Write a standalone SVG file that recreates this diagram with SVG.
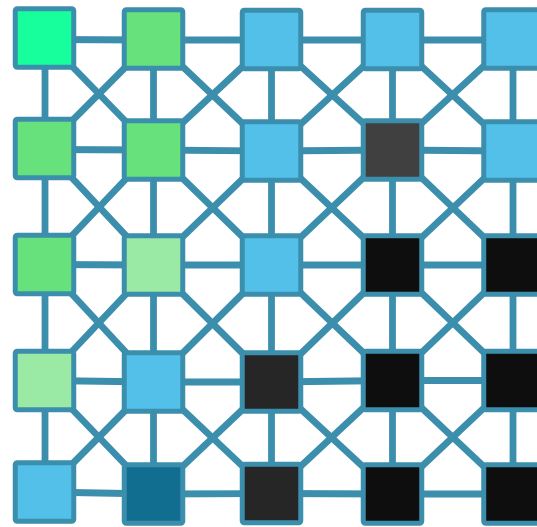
<svg xmlns="http://www.w3.org/2000/svg" width="537" height="527" viewBox="0 0 537 527">
<style>
.e{stroke:#3b8fad;stroke-width:6.8;fill:none}
.n{stroke:#3b8fad;stroke-width:5}
</style>
<rect width="537" height="527" fill="#ffffff"/>
<g id="connectors" class="e">
<!-- horizontal -->
<line x1="44.5" y1="39.5" x2="153.5" y2="40"/><line x1="153.5" y1="40" x2="271.5" y2="40"/><line x1="271.5" y1="40" x2="392.5" y2="40"/><line x1="392.5" y1="40" x2="513" y2="40"/>
<line x1="44.5" y1="149.5" x2="153.5" y2="150"/><line x1="153.5" y1="150" x2="271.5" y2="151"/><line x1="271.5" y1="151" x2="392.5" y2="150"/><line x1="392.5" y1="150" x2="513" y2="151"/>
<line x1="44.5" y1="264.5" x2="153.5" y2="265"/><line x1="153.5" y1="265" x2="271.5" y2="265"/><line x1="271.5" y1="265" x2="392.5" y2="265"/><line x1="392.5" y1="265" x2="513" y2="265"/>
<line x1="44.5" y1="380.5" x2="153.5" y2="382"/><line x1="153.5" y1="382" x2="271.5" y2="382"/><line x1="271.5" y1="382" x2="392.5" y2="380.5"/><line x1="392.5" y1="380.5" x2="513" y2="380.5"/>
<line x1="44.5" y1="492" x2="153.5" y2="494"/><line x1="153.5" y1="494" x2="271.5" y2="493.5"/><line x1="271.5" y1="493.5" x2="392.5" y2="494"/><line x1="392.5" y1="494" x2="513" y2="494"/>
<!-- vertical -->
<line x1="45" y1="38" x2="45" y2="148.5"/><line x1="45" y1="148.5" x2="45" y2="264.5"/><line x1="45" y1="264.5" x2="45" y2="380.5"/><line x1="45" y1="380.5" x2="45" y2="492"/>
<line x1="153.5" y1="39" x2="153.5" y2="150"/><line x1="153.5" y1="150" x2="153.5" y2="265"/><line x1="153.5" y1="265" x2="153.5" y2="382"/><line x1="153.5" y1="382" x2="153.5" y2="494"/>
<line x1="271.5" y1="39.5" x2="271.5" y2="151"/><line x1="271.5" y1="151" x2="271.5" y2="265"/><line x1="271.5" y1="265" x2="271.5" y2="382"/><line x1="271.5" y1="382" x2="271.5" y2="493.5"/>
<line x1="392.5" y1="39.5" x2="392.5" y2="150"/><line x1="392.5" y1="150" x2="392.5" y2="265"/><line x1="392.5" y1="265" x2="392.5" y2="380.5"/><line x1="392.5" y1="380.5" x2="392.5" y2="494"/>
<line x1="513" y1="39" x2="513" y2="151"/><line x1="513" y1="151" x2="513" y2="265"/><line x1="513" y1="265" x2="513" y2="380.5"/><line x1="513" y1="380.5" x2="513" y2="494"/>
<!-- diagonals row 0-1 -->
<line x1="44.5" y1="38" x2="153.5" y2="150"/><line x1="153.5" y1="39" x2="44.5" y2="148.5"/>
<line x1="153.5" y1="39" x2="271.5" y2="151"/><line x1="271.5" y1="39.5" x2="153.5" y2="150"/>
<line x1="271.5" y1="39.5" x2="392.5" y2="150"/><line x1="392.5" y1="39.5" x2="271.5" y2="151"/>
<line x1="392.5" y1="39.5" x2="513" y2="151"/><line x1="513" y1="39" x2="392.5" y2="150"/>
<!-- diagonals row 1-2 -->
<line x1="44.5" y1="148.5" x2="153.5" y2="265"/><line x1="153.5" y1="150" x2="44.5" y2="264.5"/>
<line x1="153.5" y1="150" x2="271.5" y2="265"/><line x1="271.5" y1="151" x2="153.5" y2="265"/>
<line x1="271.5" y1="151" x2="392.5" y2="265"/><line x1="392.5" y1="150" x2="271.5" y2="265"/>
<line x1="392.5" y1="150" x2="513" y2="265"/><line x1="513" y1="151" x2="392.5" y2="265"/>
<!-- diagonals row 2-3 -->
<line x1="44.5" y1="264.5" x2="153.5" y2="382"/><line x1="153.5" y1="265" x2="44.5" y2="380.5"/>
<line x1="153.5" y1="265" x2="271.5" y2="382"/><line x1="271.5" y1="265" x2="153.5" y2="382"/>
<line x1="271.5" y1="265" x2="392.5" y2="380.5"/><line x1="392.5" y1="265" x2="271.5" y2="382"/>
<line x1="392.5" y1="265" x2="513" y2="380.5"/><line x1="513" y1="265" x2="392.5" y2="380.5"/>
<!-- diagonals row 3-4 -->
<line x1="44.5" y1="380.5" x2="153.5" y2="494"/><line x1="153.5" y1="382" x2="44.5" y2="492"/>
<line x1="153.5" y1="382" x2="271.5" y2="493.5"/><line x1="271.5" y1="382" x2="153.5" y2="494"/>
<line x1="271.5" y1="382" x2="392.5" y2="494"/><line x1="392.5" y1="380.5" x2="271.5" y2="493.5"/>
<line x1="392.5" y1="380.5" x2="513" y2="494"/><line x1="513" y1="380.5" x2="392.5" y2="494"/>
</g>
<g id="nodes" class="n">
<g id="n00"><rect x="15.25" y="8.75" width="58.5" height="58.5" rx="2" fill="#17ff9c"/></g>
<g id="n01"><rect x="124.25" y="9.75" width="58.5" height="58.5" rx="2" fill="#67e17b"/></g>
<g id="n02"><rect x="242.25" y="10.25" width="58.5" height="58.5" rx="2" fill="#53c0ea"/></g>
<g id="n03"><rect x="363.25" y="10.25" width="58.5" height="58.5" rx="2" fill="#53c0ea"/></g>
<g id="n04"><rect x="483.75" y="9.75" width="58.5" height="58.5" rx="2" fill="#53c0ea"/></g>
<g id="n10"><rect x="15.25" y="119.25" width="58.5" height="58.5" rx="2" fill="#67e17b"/></g>
<g id="n11"><rect x="124.25" y="120.75" width="58.5" height="58.5" rx="2" fill="#67e17b"/></g>
<g id="n12"><rect x="242.25" y="121.75" width="58.5" height="58.5" rx="2" fill="#53c0ea"/></g>
<g id="n13"><rect x="363.25" y="120.75" width="58.5" height="58.5" rx="2" fill="#404040"/></g>
<g id="n14"><rect x="483.75" y="121.75" width="58.5" height="58.5" rx="2" fill="#53c0ea"/></g>
<g id="n20"><rect x="15.25" y="235.25" width="58.5" height="58.5" rx="2" fill="#67e17b"/></g>
<g id="n21"><rect x="124.25" y="235.75" width="58.5" height="58.5" rx="2" fill="#9aeaa5"/></g>
<g id="n22"><rect x="242.25" y="235.75" width="58.5" height="58.5" rx="2" fill="#53c0ea"/></g>
<g id="n23"><rect x="363.25" y="235.75" width="58.5" height="58.5" rx="2" fill="#0e0e0e"/></g>
<g id="n24"><rect x="483.75" y="235.75" width="58.5" height="58.5" rx="2" fill="#0e0e0e"/></g>
<g id="n30"><rect x="15.25" y="351.25" width="58.5" height="58.5" rx="2" fill="#9aeaa5"/></g>
<g id="n31"><rect x="124.25" y="352.75" width="58.5" height="58.5" rx="2" fill="#53c0ea"/></g>
<g id="n32"><rect x="242.25" y="352.75" width="58.5" height="58.5" rx="2" fill="#262626"/></g>
<g id="n33"><rect x="363.25" y="351.25" width="58.5" height="58.5" rx="2" fill="#0e0e0e"/></g>
<g id="n34"><rect x="483.75" y="351.25" width="58.5" height="58.5" rx="2" fill="#0e0e0e"/></g>
<g id="n40"><rect x="15.25" y="462.75" width="58.5" height="58.5" rx="2" fill="#53c0ea"/></g>
<g id="n41"><rect x="124.25" y="464.75" width="58.5" height="58.5" rx="2" fill="#126e90"/></g>
<g id="n42"><rect x="242.25" y="464.25" width="58.5" height="58.5" rx="2" fill="#262626"/></g>
<g id="n43"><rect x="363.25" y="464.75" width="58.5" height="58.5" rx="2" fill="#0e0e0e"/></g>
<g id="n44"><rect x="483.75" y="464.75" width="58.5" height="58.5" rx="2" fill="#0e0e0e"/></g>
</g>
</svg>
